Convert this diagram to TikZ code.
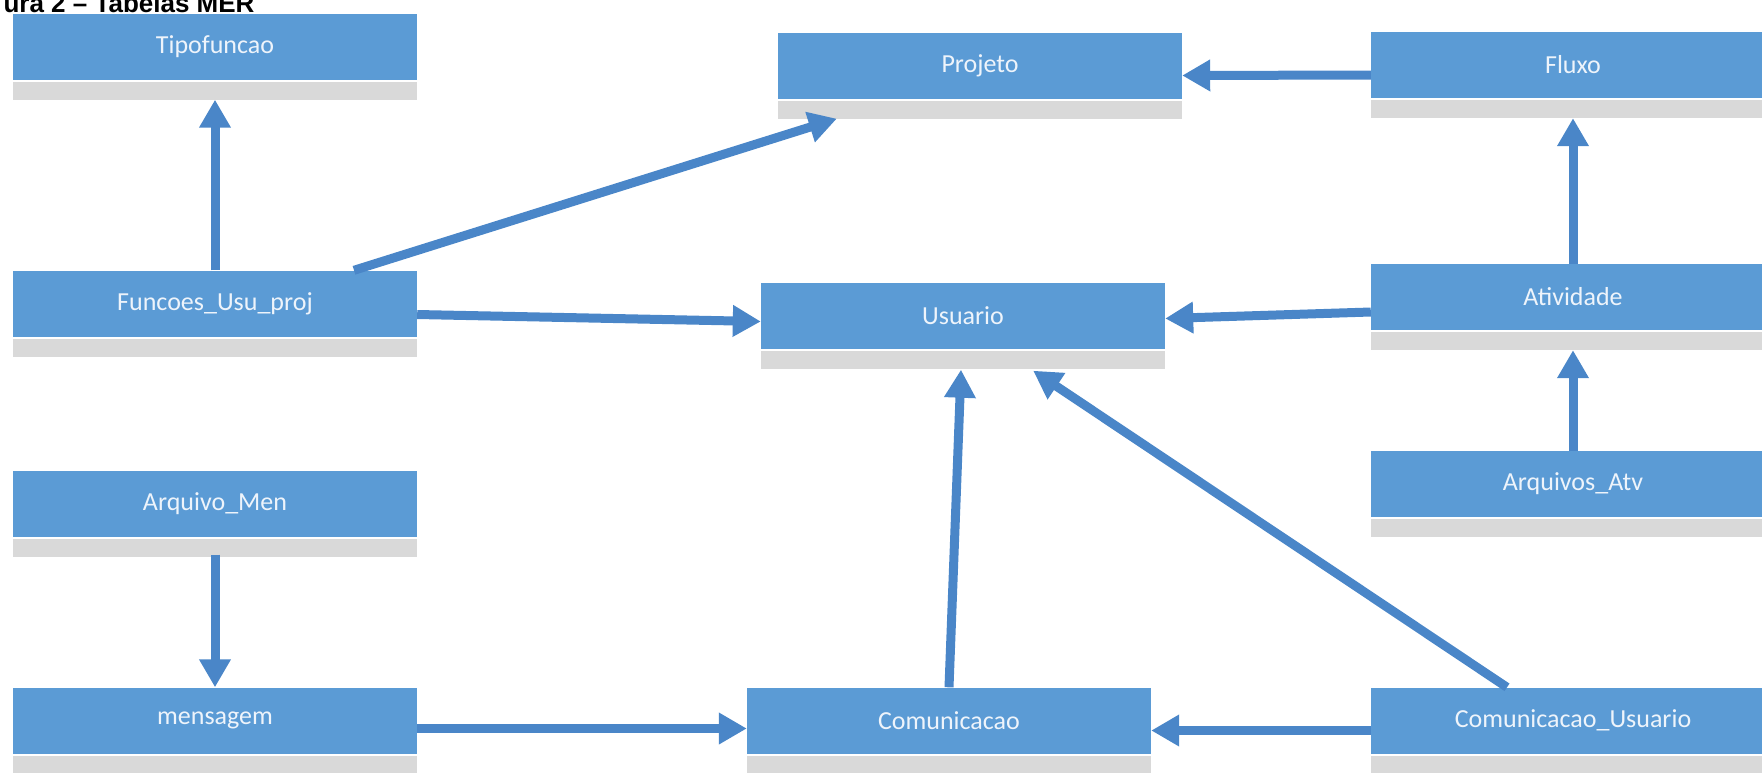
\documentclass[tikz,border=0pt]{standalone}
\usepackage{fontspec}
\usetikzlibrary{arrows.meta}
\newfontfamily\tblfont{Carlito}
\newfontfamily\titfont{Liberation Sans}
\definecolor{tblblue}{HTML}{5B9BD5}
\definecolor{tblgray}{HTML}{D9D9D9}
\definecolor{setablue}{HTML}{4A86C8}
\definecolor{tbltext}{HTML}{EEF4FB}
\tikzset{
  strip/.style={fill=tblgray, minimum width=404pt, minimum height=18pt, inner sep=0pt},
  tabela/.style={fill=tblblue, text=tbltext, minimum width=404pt, minimum height=66pt,
    inner sep=0pt, font=\tblfont\fontsize{26pt}{30pt}\selectfont,
    label={[strip, label distance=2pt]below:{}}},
  seta/.style={draw=setablue, line width=9pt, -{Triangle[length=28pt, width=30pt]}}
}
\begin{document}
\begin{tikzpicture}[x=1pt, y=-1pt]
  \useasboundingbox (0,0) rectangle (1762,772);
  \node[anchor=base west, font=\titfont\bfseries\fontsize{26pt}{30pt}\selectfont] (titulo) at (0,12) {ura 2 – Tabelas MER};

  % tabelas
  \node[tabela] (tipo) at (215,46.5) {Tipofuncao};
  \node[tabela] (projeto) at (980,65.5) {Projeto};
  \node[tabela] (fluxo) at (1573,65) {Fluxo};
  \node[tabela] (funcoes) at (215,303.5) {Funcoes\_Usu\_proj};
  \node[tabela] (usuario) at (963,315.5) {Usuario};
  \node[tabela] (atividade) at (1573,297) {Atividade};
  \node[tabela] (arqatv) at (1573,484) {Arquivos\_Atv};
  \node[tabela] (arqmen) at (215,503.5) {Arquivo\_Men};
  \node[tabela] (mensagem) at (215,720.5) {mensagem};
  \node[tabela] (comunic) at (949,720.5) {Comunicacao};
  \node[tabela] (comusu) at (1573,720.5) {Comunicacao\_Usuario};

  % setas verticais
  \foreach \a/\b in {funcoes/tipo, atividade/fluxo, arqatv/atividade}
    \draw[seta] (\a.north) -- ([yshift=-20pt]\b.south);
  \draw[seta] ([yshift=-18pt]arqmen.south) -- (mensagem.north);

  % setas horizontais
  \draw[seta] ([yshift=-10pt]fluxo.west) -- ([yshift=-10pt]projeto.east);
  \draw[seta] ([yshift=-11pt]funcoes.east) -- ([yshift=-6pt]usuario.west);
  \draw[seta] ([yshift=-15pt]atividade.west) -- ([yshift=-3pt]usuario.east);
  \draw[seta] ([yshift=-8pt]mensagem.east) -- ([yshift=-8pt]comunic.west);
  \draw[seta] ([yshift=-10pt]comusu.west) -- ([yshift=-10pt]comunic.east);

  % setas inclinadas
  \draw[seta] ([xshift=139pt]funcoes.north) -- ([xshift=59pt, yshift=-20pt]projeto.south west);
  \draw[seta] (comunic.north) -- ([xshift=-2pt, yshift=-21pt]usuario.south);
  \draw[seta] ([xshift=-66pt]comusu.north) -- ([xshift=-132pt, yshift=-22pt]usuario.south east);
\end{tikzpicture}
\end{document}
